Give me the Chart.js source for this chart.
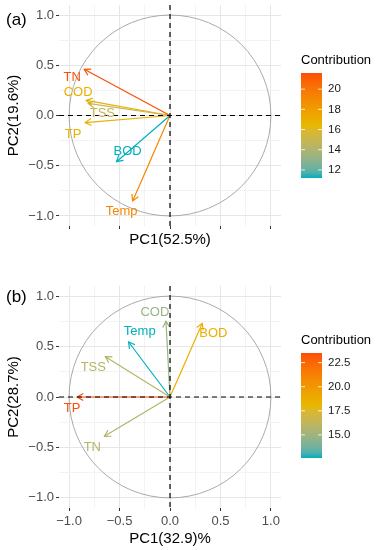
<!DOCTYPE html>
<html>
<head>
<meta charset="utf-8">
<script src="https://cdn.jsdelivr.net/npm/chart.js@4.4.0/dist/chart.umd.min.js"></script>
<style>
html, body { margin: 0; padding: 0; background: #fff; }
canvas { display: block; }
</style>
</head>
<body>
<canvas id="pa" width="379" height="275"></canvas>
<canvas id="pb" width="379" height="275"></canvas>
<script>
// panel (a)
var varsA = ['TN', 'TSS', 'COD', 'TP', 'BOD', 'Temp'];
var pc1A = [-0.85, -0.81, -0.83, -0.84, -0.53, -0.37];
var pc2A = [0.46, 0.12, 0.15, -0.07, -0.46, -0.85];
var contribA = [21.6, 15.0, 17.0, 16.8, 11.2, 19.2];
var labelPc1A = [-0.97, -0.67, -0.91, -0.96, -0.42, -0.48];
var labelPc2A = [0.38, 0.02, 0.23, -0.19, -0.36, -0.955];
var legendTicksA = [12, 14, 16, 18, 20];

// panel (b)
var varsB = ['TSS', 'TN', 'COD', 'Temp', 'BOD', 'TP'];
var pc1B = [-0.64, -0.65, -0.04, -0.41, 0.32, -0.92];
var pc2B = [0.40, -0.39, 0.75, 0.545, 0.73, 0.0];
var contribB = [15.8, 15.7, 14.8, 12.6, 18.6, 23.5];
var labelPc1B = [-0.76, -0.77, -0.15, -0.30, 0.43, -0.97];
var labelPc2B = [0.29, -0.50, 0.84, 0.65, 0.63, -0.11];
var legendTicksB = [15.0, 17.5, 20.0, 22.5];

var FONT = '"Liberation Sans", Arial, Helvetica, sans-serif';
var gradColors = ['#00AFBB', '#E7B800', '#FC4E07'];

// colour interpolation in Lab, like ggplot's gradientn
function toLab(hex) {
  var c = [1, 3, 5].map(function (i) {
    var v = parseInt(hex.substr(i, 2), 16) / 255;
    return v <= 0.04045 ? v / 12.92 : Math.pow((v + 0.055) / 1.055, 2.4);
  });
  var X = (0.4124 * c[0] + 0.3576 * c[1] + 0.1805 * c[2]) / 0.95047;
  var Y = 0.2126 * c[0] + 0.7152 * c[1] + 0.0722 * c[2];
  var Z = (0.0193 * c[0] + 0.1192 * c[1] + 0.9505 * c[2]) / 1.08883;
  var f = function (t) { return t > 0.008856 ? Math.cbrt(t) : 7.787 * t + 16 / 116; };
  return [116 * f(Y) - 16, 500 * (f(X) - f(Y)), 200 * (f(Y) - f(Z))];
}
function fromLab(lab) {
  var fy = (lab[0] + 16) / 116, fx = fy + lab[1] / 500, fz = fy - lab[2] / 200;
  var inv = function (t) { return t * t * t > 0.008856 ? t * t * t : (t - 16 / 116) / 7.787; };
  var X = inv(fx) * 0.95047, Y = inv(fy), Z = inv(fz) * 1.08883;
  var rgb = [
    3.2406 * X - 1.5372 * Y - 0.4986 * Z,
    -0.9689 * X + 1.8758 * Y + 0.0415 * Z,
    0.0557 * X - 0.2040 * Y + 1.0570 * Z
  ].map(function (v) {
    v = v <= 0.0031308 ? 12.92 * v : 1.055 * Math.pow(v, 1 / 2.4) - 0.055;
    return Math.round(Math.max(0, Math.min(1, v)) * 255);
  });
  return 'rgb(' + rgb.join(',') + ')';
}
var labStops = gradColors.map(toLab);
function gradAt(t) {
  t = Math.max(0, Math.min(1, t));
  var seg = t < 0.5 ? 0 : 1;
  var u = (t - seg * 0.5) / 0.5;
  var a = labStops[seg], b = labStops[seg + 1];
  return fromLab([a[0] + (b[0] - a[0]) * u, a[1] + (b[1] - a[1]) * u, a[2] + (b[2] - a[2]) * u]);
}

function isMajor(v) { return Math.abs(v * 2 - Math.round(v * 2)) < 1e-6; }
function fmt(v) { return (Math.abs(v) < 1e-9 ? 0 : v).toFixed(1).replace('-', '\u2212'); }

var pcaPlugin = {
  id: 'pcaExtras',
  beforeDatasetsDraw: function (chart) {
    var ctx = chart.ctx, x = chart.scales.x, y = chart.scales.y;
    var cx = x.getPixelForValue(0), cy = y.getPixelForValue(0);
    var rx = x.getPixelForValue(1) - cx, ry = cy - y.getPixelForValue(1);
    ctx.save();
    ctx.strokeStyle = '#aaaaaa';
    ctx.lineWidth = 1;
    ctx.beginPath();
    ctx.ellipse(cx, cy, rx, ry, 0, 0, Math.PI * 2);
    ctx.stroke();
    ctx.restore();
  },
  afterDatasetsDraw: function (chart, args, o) {
    var ctx = chart.ctx, x = chart.scales.x, y = chart.scales.y, a = chart.chartArea;
    var cx = x.getPixelForValue(0), cy = y.getPixelForValue(0);
    ctx.save();
    // arrow heads
    o.names.forEach(function (n, i) {
      var px = x.getPixelForValue(o.pc1[i]), py = y.getPixelForValue(o.pc2[i]);
      var ang = Math.atan2(py - cy, px - cx);
      var len = 7, spread = Math.PI / 6;
      ctx.strokeStyle = o.colors[i];
      ctx.lineWidth = 1.2;
      ctx.beginPath();
      ctx.moveTo(px - len * Math.cos(ang - spread), py - len * Math.sin(ang - spread));
      ctx.lineTo(px, py);
      ctx.lineTo(px - len * Math.cos(ang + spread), py - len * Math.sin(ang + spread));
      ctx.stroke();
    });
    // dashed axes
    ctx.strokeStyle = '#000';
    ctx.lineWidth = 1.2;
    ctx.setLineDash([5, 4]);
    ctx.beginPath();
    ctx.moveTo(a.left, cy); ctx.lineTo(a.right, cy);
    ctx.moveTo(cx, a.top); ctx.lineTo(cx, a.bottom);
    ctx.stroke();
    ctx.setLineDash([]);
    // variable labels
    ctx.font = '13px ' + FONT;
    ctx.textAlign = 'center';
    ctx.textBaseline = 'middle';
    o.names.forEach(function (n, i) {
      ctx.fillStyle = o.colors[i];
      ctx.fillText(n, x.getPixelForValue(o.lx[i]), y.getPixelForValue(o.ly[i]));
    });
    ctx.restore();
  },
  afterDraw: function (chart, args, o) {
    var ctx = chart.ctx;
    ctx.save();
    // panel tag
    ctx.fillStyle = '#000';
    ctx.font = '17px ' + FONT;
    ctx.textAlign = 'left';
    ctx.textBaseline = 'middle';
    ctx.fillText(o.tag, 6, o.tagY);
    // colour bar legend
    var lg = o.legend;
    ctx.font = '13px ' + FONT;
    ctx.fillText('Contribution', lg.x, lg.titleY);
    var g = ctx.createLinearGradient(0, lg.bottom, 0, lg.top);
    for (var k = 0; k <= 20; k++) g.addColorStop(k / 20, gradAt(k / 20));
    ctx.fillStyle = g;
    ctx.fillRect(lg.x, lg.top, lg.w, lg.bottom - lg.top);
    var min = Math.min.apply(null, o.contrib), max = Math.max.apply(null, o.contrib);
    ctx.font = '11.5px ' + FONT;
    ctx.fillStyle = '#1a1a1a';
    ctx.strokeStyle = 'rgba(255,255,255,0.8)';
    ctx.lineWidth = 1;
    lg.ticks.forEach(function (t) {
      var ty = lg.bottom - (t - min) / (max - min) * (lg.bottom - lg.top);
      ctx.beginPath();
      ctx.moveTo(lg.x, ty); ctx.lineTo(lg.x + 4, ty);
      ctx.moveTo(lg.x + lg.w - 4, ty); ctx.lineTo(lg.x + lg.w, ty);
      ctx.stroke();
      ctx.fillText(lg.dec ? t.toFixed(1) : String(t), lg.x + lg.w + 6, ty);
    });
    ctx.restore();
  }
};

function makePanel(id, names, pc1, pc2, contrib, lx, ly, cfg) {
  var min = Math.min.apply(null, contrib), max = Math.max.apply(null, contrib);
  var colors = contrib.map(function (c) { return gradAt((c - min) / (max - min)); });
  var datasets = names.map(function (n, i) {
    return {
      label: n,
      data: [{ x: 0, y: 0 }, { x: pc1[i], y: pc2[i] }],
      showLine: true,
      borderColor: colors[i],
      borderWidth: 1.2,
      pointRadius: 0,
      fill: false
    };
  });
  var gridColor = function (c) { return c.tick && isMajor(c.tick.value) ? '#e6e6e6' : '#f3f3f3'; };
  var tickColor = function (c) { return c.tick && isMajor(c.tick.value) ? '#333333' : 'rgba(0,0,0,0)'; };
  return new Chart(document.getElementById(id), {
    type: 'scatter',
    data: { datasets: datasets },
    plugins: [pcaPlugin],
    options: {
      responsive: false,
      animation: false,
      events: [],
      layout: { padding: { left: 0, right: 98, top: cfg.top, bottom: 0 } },
      plugins: {
        legend: { display: false },
        tooltip: { enabled: false },
        pcaExtras: {
          names: names, pc1: pc1, pc2: pc2, colors: colors, lx: lx, ly: ly,
          contrib: contrib, tag: cfg.tag, tagY: cfg.tagY, legend: cfg.legend
        }
      },
      scales: {
        x: {
          type: 'linear', min: -1.1, max: 1.1,
          afterFit: function (s) { s.height = cfg.xAxisH; s.paddingLeft = 0; s.paddingRight = 0; },
          grid: { color: gridColor, lineWidth: 1, tickLength: 3, tickColor: tickColor },
          border: { display: false },
          ticks: {
            stepSize: 0.25, includeBounds: false, autoSkip: false, maxRotation: 0,
            padding: 3, color: '#4d4d4d', font: { family: FONT, size: 13 },
            callback: function (v) { return cfg.xLabels && isMajor(v) ? fmt(v) : ''; }
          },
          title: {
            display: true, text: cfg.xTitle, color: '#000',
            font: { family: FONT, size: 15 }, padding: { top: 0, bottom: cfg.xTitlePad }
          }
        },
        y: {
          type: 'linear', min: -1.1, max: 1.1,
          afterFit: function (s) { s.width = 59; s.paddingTop = 0; s.paddingBottom = 0; },
          grid: { color: gridColor, lineWidth: 1, tickLength: 3, tickColor: tickColor },
          border: { display: false },
          ticks: {
            stepSize: 0.25, includeBounds: false, autoSkip: false,
            padding: 2, color: '#4d4d4d', font: { family: FONT, size: 13 },
            callback: function (v) { return isMajor(v) ? fmt(v) : ''; }
          },
          title: {
            display: true, text: cfg.yTitle, color: '#000',
            font: { family: FONT, size: 15 }, padding: { top: 5, bottom: 0 }
          }
        }
      }
    }
  });
}

makePanel('pa', varsA, pc1A, pc2A, contribA, labelPc1A, labelPc2A, {
  top: 5, xAxisH: 49, xLabels: false, xTitle: 'PC1(52.5%)', xTitlePad: 26,
  yTitle: 'PC2(19.6%)', tag: '(a)', tagY: 20,
  legend: { x: 301, w: 21, top: 73, bottom: 178, titleY: 60, ticks: legendTicksA, dec: false }
});
makePanel('pb', varsB, pc1B, pc2B, contribB, labelPc1B, labelPc2B, {
  top: 11, xAxisH: 42, xLabels: true, xTitle: 'PC1(32.9)%', xTitlePad: 2,
  yTitle: 'PC2(28.7%)', tag: '(b)', tagY: 22,
  legend: { x: 301, w: 21, top: 78, bottom: 183, titleY: 65, ticks: legendTicksB, dec: true }
});
</script>
</body>
</html>
